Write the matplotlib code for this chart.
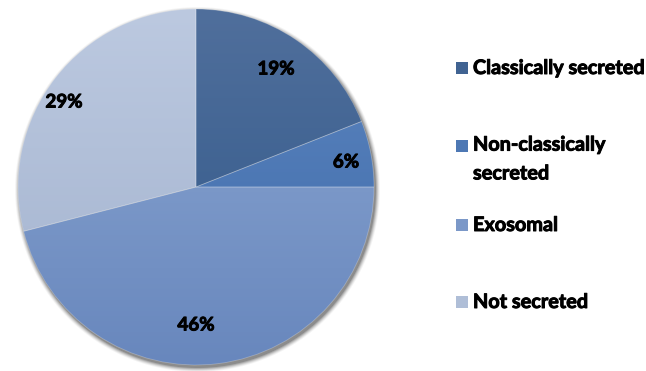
import numpy as np
import matplotlib
matplotlib.use("Agg")
import matplotlib.pyplot as plt
import matplotlib.patheffects as pe
from matplotlib.colors import to_rgb
from matplotlib.patches import Rectangle

categories = ["Classically secreted", "Non-classically\nsecreted", "Exosomal", "Not secreted"]
shares = [19, 6, 46, 29]
pct_labels = ["19%", "6%", "46%", "29%"]

# top / bottom shades for the vertical gradient of each slice
top_colors = ["#506F9C", "#5E86C0", "#8DA8D3", "#BCC9E0"]
bottom_colors = ["#2F5788", "#3B69A8", "#6887BD", "#A2B2CE"]

W, H = 646, 371
fig = plt.figure(figsize=(W / 100, H / 100), dpi=100)
ax = fig.add_axes([0, 0, 1, 1])

cx, cy, r = 196, 187, 178

# soft drop shadow behind the pie
yy, xx = np.mgrid[0:H, 0:W]
d = np.hypot(xx - (cx + 1), yy - (cy + 2)) - r
shadow_alpha = np.clip(1 - d / 5.0, 0, 1) ** 1.5 * 0.6
shadow = np.zeros((H, W, 4))
shadow[..., :3] = 0.25
shadow[..., 3] = shadow_alpha
ax.imshow(shadow, extent=(0, W, H, 0), zorder=1, interpolation="bilinear")

# y axis runs downward, so start at -90 and go counter-clockwise in data
# space: on screen this begins at 12 o'clock and runs clockwise
wedges, _ = ax.pie(shares, center=(cx, cy), radius=r, startangle=-90,
                   counterclock=True, frame=True,
                   wedgeprops=dict(linewidth=0))

t = np.linspace(0, 1, 256)[:, None]
for w, c0, c1 in zip(wedges, top_colors, bottom_colors):
    a, b = np.array(to_rgb(c0)), np.array(to_rgb(c1))
    grad = (a[None, :] * (1 - t) + b[None, :] * t)[:, None, :]
    im = ax.imshow(grad, extent=(cx - r, cx + r, cy + r, cy - r),
                   aspect="auto", zorder=2, interpolation="bilinear")
    im.set_clip_path(w)
    w.set_facecolor("none")
    w.set_edgecolor((1, 1, 1, 0.25))
    w.set_linewidth(0.6)
    w.set_zorder(3)

ax.set_xlim(0, W)
ax.set_ylim(H, 0)
ax.set_aspect("auto")
ax.axis("off")

# slightly thickened bold text
heavy = [pe.withStroke(linewidth=0.7, foreground="black")]
font = dict(family="Lato", weight="bold", style="normal", color="black",
            path_effects=heavy)

label_pos = [(276, 69), (346, 162), (196, 325), (64, 102)]
for (x, y), s in zip(label_pos, pct_labels):
    ax.text(x, y, s, ha="center", va="center", fontsize=13.5, zorder=5, **font)

legend_y = [68, 146, 225, 302]
mid_colors = [tuple((np.array(to_rgb(a)) + np.array(to_rgb(b))) / 2)
              for a, b in zip(top_colors, bottom_colors)]
for y, name, col in zip(legend_y, categories, mid_colors):
    ax.add_patch(Rectangle((456, y - 6), 12, 12, facecolor=col,
                           edgecolor="none", zorder=5))
    n_lines = name.count("\n") + 1
    yc = y + 13 * (n_lines - 1)
    ax.text(473, yc, name, ha="left", va="center", fontsize=14.3,
            linespacing=1.55, zorder=5, **font)

fig.savefig("out.png", dpi=100)
